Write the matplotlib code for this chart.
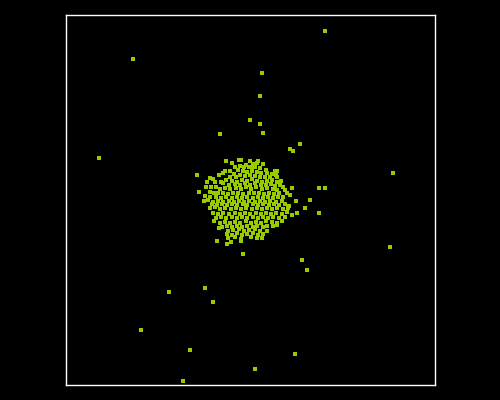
import matplotlib
matplotlib.use("Agg")
import matplotlib.pyplot as plt

# dense central cluster (arbitrary units)
cluster_x = [
    160, 172.7, 175, 184.3, 191.7, 166.3, 180, 187.3, 190.7, 197.3, 174, 178, 182.7, 189.3, 169, 186, 194, 209, 211.3, 200,
    158.7, 156.7, 153.3, 164, 172, 177.3, 181.3, 185.7, 190.7, 195.3, 200.7, 206, 210, 168, 174, 179, 184, 189, 194, 199,
    204, 211.3, 131.3, 144, 147.3, 164, 170, 149, 154.7, 160, 165.7, 170.7, 175.7, 180.7, 185.7, 190.7, 195.7, 200.7, 205.7, 210.7,
    214.7, 141.3, 157.3, 163.3, 169, 174, 179, 184, 189, 194.7, 200, 204.7, 209, 214, 140, 144.7, 150, 154, 159, 164,
    170, 174.7, 180, 184.7, 190, 195.7, 201.3, 206.7, 211.3, 216.7, 219, 226, 133.3, 144, 148, 152.3, 157.3, 162.3, 167.3, 172.3,
    177.3, 183.3, 188, 193.3, 198, 203.3, 208, 213.3, 220.7, 139, 144, 150, 154.7, 160, 165.7, 170.7, 175.7, 181.3, 186.7, 191.7,
    197.3, 202.3, 207.3, 212.3, 217.3, 224, 138, 142.3, 147.3, 152.3, 157.3, 163.3, 168, 173.3, 178.3, 183.3, 189, 194, 199, 204,
    210, 215.7, 230, 145.7, 150.7, 155.7, 160.7, 165.7, 171.3, 176.7, 181.3, 186.7, 192.3, 197.3, 202.7, 208, 213.3, 219, 223.3, 144,
    149, 154, 159, 164.7, 170, 174.7, 180, 185.7, 190.7, 195.7, 200.7, 205.7, 211.3, 217.3, 222.3, 239, 230.7, 147.3, 152.3, 157.3,
    163.3, 169, 174, 179, 184, 190, 194.7, 200, 204.7, 210, 215.7, 220.7, 225.7, 150, 154.7, 160, 165.7, 170.7, 175.7, 181.3, 186.7,
    192.3, 197.3, 202.3, 207.3, 213.3, 219, 148, 154, 159, 164, 169, 174, 180, 184.7, 190, 194.7, 200, 205.7, 211.3, 215.7,
    155.7, 160.7, 165.7, 170.7, 175.7, 181.3, 186.7, 191.3, 196.7, 201.3, 207.3, 211.3, 153.3, 162.3, 167.3, 173.3, 178, 183.3, 189, 194,
    201.3, 161.3, 165.7, 170.7, 175.7, 181.3, 187.3, 192.3, 196.7, 162.3, 169, 174.7, 184.7, 190.7, 195.7, 151.3, 164.7, 160.7, 174.7, 176.7,
]
cluster_y = [
    224, 225, 225, 224.3, 224, 221.7, 220.3, 221, 221.7, 220.7, 219, 218.3, 218.3, 218.3, 217.7, 216.7, 216.7, 214.3, 213.7, 215,
    214, 211.7, 210, 214.3, 215, 214, 213.3, 214.3, 213.3, 212.3, 211.7, 211, 210, 211, 210, 209, 210, 209, 208.3, 207.7,
    208.3, 208.3, 210, 206.7, 205.7, 208.3, 207.7, 203.3, 203.3, 205, 204.3, 203.3, 205, 204.3, 205.7, 204.3, 203.3, 204.3, 205, 203.3,
    204.3, 202.7, 201.7, 200, 201, 200, 201.7, 200.3, 201.7, 200, 200, 201, 199, 200, 197.7, 198.3, 197.7, 195.7, 196.7, 195.7,
    196.7, 195.7, 197.7, 195.7, 197.7, 195.7, 196.7, 195.7, 195, 197.7, 195, 196.7, 193.3, 193.3, 192.3, 191.7, 192.3, 191, 192.3, 191.7,
    191, 192.3, 191.7, 192.3, 191, 192.3, 191, 191.7, 192.3, 189, 188.3, 187.7, 186.7, 187.7, 186.7, 187.7, 186.7, 187.7, 186.7, 187.7,
    186.7, 187.7, 186.7, 187.7, 188.3, 190, 184, 185, 183.3, 184.3, 183.3, 184.3, 183.3, 184.3, 183.3, 184.3, 183.3, 184.3, 183.3, 184.3,
    183.3, 184.3, 184, 181, 180, 181, 180, 181, 180, 181, 180, 181, 180, 181, 180, 181, 180, 181, 179, 176.7,
    177.7, 175.7, 176.7, 175.7, 176.7, 175.7, 176.7, 175.7, 176.7, 175.7, 176.7, 175.7, 176.7, 175.7, 176.7, 176.7, 172.3, 172.3, 171, 171.7,
    171, 172.3, 171, 172.3, 171, 172.3, 171, 172.3, 171, 172.3, 171, 173.3, 170, 166.7, 167.7, 166.7, 168.3, 166.7, 167.7, 166.7, 168.3,
    166.7, 167.7, 166.7, 168.3, 166.7, 168.3, 164.3, 162.3, 163.3, 162.3, 163.3, 162.3, 164.3, 162.3, 163.3, 162.3, 164.3, 163.3, 162.3, 164.3,
    158.3, 159, 157.7, 159, 157.7, 159, 157.7, 159, 157.7, 159, 159, 160, 156.7, 154.3, 155, 155.7, 154.3, 155, 155.7, 154.3,
    154.3, 151, 150, 151.7, 150, 151, 151.7, 150, 151, 146.7, 147.7, 145.7, 147.7, 146.7, 146.7, 144.3, 143.3, 141, 144.3, 131,
]

# scattered outliers
outlier_x = [259, 67, 196, 194, 184, 194, 197, 154, 224, 227, 234, 33, 327, 253, 259, 244, 253,
             324, 236, 241, 103, 139, 147, 75, 124, 229, 189, 117]
outlier_y = [354, 326, 312, 289, 265, 261, 252, 251, 236, 234, 241, 227, 212, 197, 197, 185, 172,
             138, 125, 115, 93, 97, 83, 55, 35, 31, 16, 4]

xs = cluster_x + outlier_x
ys = cluster_y + outlier_y

fig = plt.figure(figsize=(5, 4), dpi=100, facecolor="black")
ax = fig.add_axes([0.132, 0.0375, 0.738, 0.925])
ax.set_facecolor("black")
ax.scatter(xs, ys, s=6, marker="s", color="#99cc00", linewidths=0)
ax.set_xlim(0, 369)
ax.set_ylim(0, 370)
ax.set_xticks([])
ax.set_yticks([])
for spine in ax.spines.values():
    spine.set_color("white")
    spine.set_linewidth(1)

plt.savefig("out.png", dpi=100, facecolor="black")
